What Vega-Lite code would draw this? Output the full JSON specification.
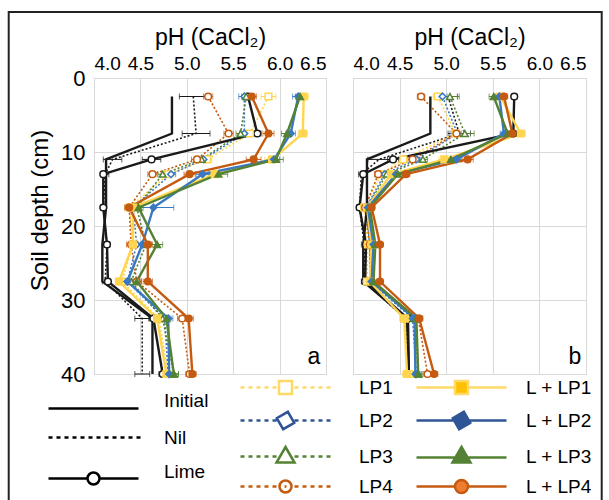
{
"$schema": "https://vega.github.io/schema/vega-lite/v6.json",
"padding": {"left": 7, "top": 10, "right": 5, "bottom": 0},
"background": "white",
"config": {
 "font": "Liberation Sans",
 "view": {"stroke": "#d9d9d9", "strokeWidth": 1},
 "axis": {"grid": true, "gridColor": "#d9d9d9", "domain": false, "ticks": false, "labelFont": "Liberation Sans", "labelFontSize": 19, "labelColor": "#000", "titleFont": "Liberation Sans", "titleFontSize": 23, "titleFontWeight": "normal", "titleColor": "#000"}
},
"datasets": {
"pa": [
{"s":"Initial","d":2.5,"pH":4.84},{"s":"Initial","d":7.5,"pH":4.84},{"s":"Initial","d":11,"pH":4.13},{"s":"Initial","d":13,"pH":4.13},{"s":"Initial","d":17.5,"pH":4.13},{"s":"Initial","d":22.5,"pH":4.09},{"s":"Initial","d":27.5,"pH":4.09},{"s":"Initial","d":32.5,"pH":4.63},{"s":"Initial","d":40,"pH":4.63},
{"s":"Nil","d":2.5,"pH":5.07,"e":0.15},{"s":"Nil","d":7.5,"pH":5.1,"e":0.15},{"s":"Nil","d":11,"pH":4.2,"e":0.1},{"s":"Nil","d":13,"pH":4.12,"e":0.04},{"s":"Nil","d":17.5,"pH":4.1,"e":0.03},{"s":"Nil","d":22.5,"pH":4.14,"e":0.03},{"s":"Nil","d":27.5,"pH":4.12,"e":0.03},{"s":"Nil","d":32.5,"pH":4.52,"e":0.08},{"s":"Nil","d":40,"pH":4.52,"e":0.08},
{"s":"Lime","d":2.5,"pH":5.66,"e":0.05},{"s":"Lime","d":7.5,"pH":5.76,"e":0.04},{"s":"Lime","d":11,"pH":4.62,"e":0.1},{"s":"Lime","d":13,"pH":4.1,"e":0.03},{"s":"Lime","d":17.5,"pH":4.1,"e":0.03},{"s":"Lime","d":22.5,"pH":4.14,"e":0.03},{"s":"Lime","d":27.5,"pH":4.15,"e":0.03},{"s":"Lime","d":32.5,"pH":4.64,"e":0.05},{"s":"Lime","d":40,"pH":4.74,"e":0.04},
{"s":"LP1","d":2.5,"pH":5.88,"e":0.08},{"s":"LP1","d":7.5,"pH":5.68,"e":0.06},{"s":"LP1","d":11,"pH":5.22,"e":0.05},{"s":"LP1","d":13,"pH":4.8,"e":0.06},{"s":"LP1","d":17.5,"pH":4.38,"e":0.05},{"s":"LP1","d":22.5,"pH":4.42,"e":0.06},{"s":"LP1","d":27.5,"pH":4.3,"e":0.05},{"s":"LP1","d":32.5,"pH":4.7,"e":0.06},{"s":"LP1","d":40,"pH":4.8,"e":0.05},
{"s":"LP2","d":2.5,"pH":5.62,"e":0.06},{"s":"LP2","d":7.5,"pH":5.62,"e":0.05},{"s":"LP2","d":11,"pH":5.18,"e":0.05},{"s":"LP2","d":13,"pH":4.83,"e":0.05},{"s":"LP2","d":17.5,"pH":4.42,"e":0.05},{"s":"LP2","d":22.5,"pH":4.46,"e":0.05},{"s":"LP2","d":27.5,"pH":4.36,"e":0.04},{"s":"LP2","d":32.5,"pH":4.76,"e":0.05},{"s":"LP2","d":40,"pH":4.8,"e":0.05},
{"s":"LP3","d":2.5,"pH":5.64,"e":0.05},{"s":"LP3","d":7.5,"pH":5.58,"e":0.05},{"s":"LP3","d":11,"pH":5.16,"e":0.06},{"s":"LP3","d":13,"pH":4.74,"e":0.05},{"s":"LP3","d":17.5,"pH":4.46,"e":0.05},{"s":"LP3","d":22.5,"pH":4.56,"e":0.05},{"s":"LP3","d":27.5,"pH":4.4,"e":0.05},{"s":"LP3","d":32.5,"pH":4.74,"e":0.05},{"s":"LP3","d":40,"pH":4.86,"e":0.05},
{"s":"LP4","d":2.5,"pH":5.23,"e":0.05},{"s":"LP4","d":7.5,"pH":5.45,"e":0.05},{"s":"LP4","d":11,"pH":5.11,"e":0.06},{"s":"LP4","d":13,"pH":4.63,"e":0.05},{"s":"LP4","d":17.5,"pH":4.38,"e":0.04},{"s":"LP4","d":22.5,"pH":4.4,"e":0.05},{"s":"LP4","d":27.5,"pH":4.46,"e":0.05},{"s":"LP4","d":32.5,"pH":4.95,"e":0.05},{"s":"LP4","d":40,"pH":5.03,"e":0.04},
{"s":"L+LP1","d":2.5,"pH":6.26,"e":0.05},{"s":"L+LP1","d":7.5,"pH":6.25,"e":0.05},{"s":"L+LP1","d":11,"pH":5.92,"e":0.08},{"s":"L+LP1","d":13,"pH":5.3,"e":0.08},{"s":"L+LP1","d":17.5,"pH":4.42,"e":0.05},{"s":"L+LP1","d":22.5,"pH":4.42,"e":0.04},{"s":"L+LP1","d":27.5,"pH":4.27,"e":0.04},{"s":"L+LP1","d":32.5,"pH":4.68,"e":0.05},{"s":"L+LP1","d":40,"pH":4.78,"e":0.04},
{"s":"L+LP2","d":2.5,"pH":6.2,"e":0.06},{"s":"L+LP2","d":7.5,"pH":6.12,"e":0.05},{"s":"L+LP2","d":11,"pH":5.94,"e":0.06},{"s":"L+LP2","d":13,"pH":5.17,"e":0.07},{"s":"L+LP2","d":17.5,"pH":4.64,"e":0.22},{"s":"L+LP2","d":22.5,"pH":4.52,"e":0.05},{"s":"L+LP2","d":27.5,"pH":4.36,"e":0.05},{"s":"L+LP2","d":32.5,"pH":4.8,"e":0.05},{"s":"L+LP2","d":40,"pH":4.81,"e":0.04},
{"s":"L+LP3","d":2.5,"pH":6.22,"e":0.05},{"s":"L+LP3","d":7.5,"pH":6.08,"e":0.06},{"s":"L+LP3","d":11,"pH":5.96,"e":0.08},{"s":"L+LP3","d":13,"pH":5.34,"e":0.1},{"s":"L+LP3","d":17.5,"pH":4.48,"e":0.05},{"s":"L+LP3","d":22.5,"pH":4.68,"e":0.06},{"s":"L+LP3","d":27.5,"pH":4.46,"e":0.05},{"s":"L+LP3","d":32.5,"pH":4.78,"e":0.05},{"s":"L+LP3","d":40,"pH":4.86,"e":0.05},
{"s":"L+LP4","d":2.5,"pH":5.7,"e":0.05},{"s":"L+LP4","d":7.5,"pH":5.88,"e":0.06},{"s":"L+LP4","d":11,"pH":5.72,"e":0.08},{"s":"L+LP4","d":13,"pH":5.03,"e":0.06},{"s":"L+LP4","d":17.5,"pH":4.38,"e":0.05},{"s":"L+LP4","d":22.5,"pH":4.58,"e":0.05},{"s":"L+LP4","d":27.5,"pH":4.58,"e":0.05},{"s":"L+LP4","d":32.5,"pH":5.02,"e":0.05},{"s":"L+LP4","d":40,"pH":5.06,"e":0.04}
],
"pb": [
{"s":"Initial","d":2.5,"pH":4.83},{"s":"Initial","d":7.5,"pH":4.83},{"s":"Initial","d":11,"pH":4.15},{"s":"Initial","d":13,"pH":4.15},{"s":"Initial","d":17.5,"pH":4.15},{"s":"Initial","d":22.5,"pH":4.11},{"s":"Initial","d":27.5,"pH":4.11},{"s":"Initial","d":32.5,"pH":4.58},{"s":"Initial","d":40,"pH":4.6},
{"s":"Nil","d":2.5,"pH":5.02,"e":0.1},{"s":"Nil","d":7.5,"pH":5.14,"e":0.12},{"s":"Nil","d":11,"pH":4.28,"e":0.12},{"s":"Nil","d":13,"pH":4.09,"e":0.03},{"s":"Nil","d":17.5,"pH":4.07,"e":0.03},{"s":"Nil","d":22.5,"pH":4.12,"e":0.03},{"s":"Nil","d":27.5,"pH":4.12,"e":0.03},{"s":"Nil","d":32.5,"pH":4.56,"e":0.05},{"s":"Nil","d":40,"pH":4.6,"e":0.05},
{"s":"Lime","d":2.5,"pH":5.73,"e":0.03},{"s":"Lime","d":7.5,"pH":5.72,"e":0.04},{"s":"Lime","d":11,"pH":4.43,"e":0.06},{"s":"Lime","d":13,"pH":4.11,"e":0.03},{"s":"Lime","d":17.5,"pH":4.07,"e":0.03},{"s":"Lime","d":22.5,"pH":4.14,"e":0.03},{"s":"Lime","d":27.5,"pH":4.13,"e":0.03},{"s":"Lime","d":32.5,"pH":4.59,"e":0.04},{"s":"Lime","d":40,"pH":4.6,"e":0.04},
{"s":"LP1","d":2.5,"pH":4.91,"e":0.05},{"s":"LP1","d":7.5,"pH":5.1,"e":0.06},{"s":"LP1","d":11,"pH":4.54,"e":0.05},{"s":"LP1","d":13,"pH":4.3,"e":0.05},{"s":"LP1","d":17.5,"pH":4.12,"e":0.03},{"s":"LP1","d":22.5,"pH":4.16,"e":0.03},{"s":"LP1","d":27.5,"pH":4.15,"e":0.03},{"s":"LP1","d":32.5,"pH":4.56,"e":0.05},{"s":"LP1","d":40,"pH":4.6,"e":0.05},
{"s":"LP2","d":2.5,"pH":4.96,"e":0.05},{"s":"LP2","d":7.5,"pH":5.12,"e":0.08},{"s":"LP2","d":11,"pH":4.68,"e":0.05},{"s":"LP2","d":13,"pH":4.34,"e":0.04},{"s":"LP2","d":17.5,"pH":4.14,"e":0.03},{"s":"LP2","d":22.5,"pH":4.18,"e":0.03},{"s":"LP2","d":27.5,"pH":4.18,"e":0.03},{"s":"LP2","d":32.5,"pH":4.64,"e":0.04},{"s":"LP2","d":40,"pH":4.68,"e":0.04},
{"s":"LP3","d":2.5,"pH":5.04,"e":0.1},{"s":"LP3","d":7.5,"pH":5.2,"e":0.1},{"s":"LP3","d":11,"pH":4.75,"e":0.05},{"s":"LP3","d":13,"pH":4.36,"e":0.04},{"s":"LP3","d":17.5,"pH":4.15,"e":0.03},{"s":"LP3","d":22.5,"pH":4.2,"e":0.03},{"s":"LP3","d":27.5,"pH":4.2,"e":0.03},{"s":"LP3","d":32.5,"pH":4.66,"e":0.04},{"s":"LP3","d":40,"pH":4.7,"e":0.04},
{"s":"LP4","d":2.5,"pH":4.73,"e":0.04},{"s":"LP4","d":7.5,"pH":5.11,"e":0.05},{"s":"LP4","d":11,"pH":4.64,"e":0.05},{"s":"LP4","d":13,"pH":4.27,"e":0.04},{"s":"LP4","d":17.5,"pH":4.13,"e":0.03},{"s":"LP4","d":22.5,"pH":4.18,"e":0.03},{"s":"LP4","d":27.5,"pH":4.2,"e":0.03},{"s":"LP4","d":32.5,"pH":4.7,"e":0.04},{"s":"LP4","d":40,"pH":4.8,"e":0.04},
{"s":"L+LP1","d":2.5,"pH":5.58,"e":0.06},{"s":"L+LP1","d":7.5,"pH":5.8,"e":0.05},{"s":"L+LP1","d":11,"pH":4.98,"e":0.06},{"s":"L+LP1","d":13,"pH":4.41,"e":0.05},{"s":"L+LP1","d":17.5,"pH":4.15,"e":0.03},{"s":"L+LP1","d":22.5,"pH":4.2,"e":0.03},{"s":"L+LP1","d":27.5,"pH":4.18,"e":0.03},{"s":"L+LP1","d":32.5,"pH":4.55,"e":0.05},{"s":"L+LP1","d":40,"pH":4.58,"e":0.05},
{"s":"L+LP2","d":2.5,"pH":5.57,"e":0.04},{"s":"L+LP2","d":7.5,"pH":5.62,"e":0.04},{"s":"L+LP2","d":11,"pH":5.11,"e":0.05},{"s":"L+LP2","d":13,"pH":4.46,"e":0.04},{"s":"L+LP2","d":17.5,"pH":4.16,"e":0.03},{"s":"L+LP2","d":22.5,"pH":4.22,"e":0.03},{"s":"L+LP2","d":27.5,"pH":4.2,"e":0.03},{"s":"L+LP2","d":32.5,"pH":4.66,"e":0.04},{"s":"L+LP2","d":40,"pH":4.67,"e":0.04},
{"s":"L+LP3","d":2.5,"pH":5.51,"e":0.05},{"s":"L+LP3","d":7.5,"pH":5.66,"e":0.05},{"s":"L+LP3","d":11,"pH":5.05,"e":0.05},{"s":"L+LP3","d":13,"pH":4.48,"e":0.04},{"s":"L+LP3","d":17.5,"pH":4.18,"e":0.03},{"s":"L+LP3","d":22.5,"pH":4.24,"e":0.03},{"s":"L+LP3","d":27.5,"pH":4.22,"e":0.03},{"s":"L+LP3","d":32.5,"pH":4.68,"e":0.04},{"s":"L+LP3","d":40,"pH":4.7,"e":0.04},
{"s":"L+LP4","d":2.5,"pH":5.62,"e":0.04},{"s":"L+LP4","d":7.5,"pH":5.71,"e":0.05},{"s":"L+LP4","d":11,"pH":5.23,"e":0.06},{"s":"L+LP4","d":13,"pH":4.57,"e":0.04},{"s":"L+LP4","d":17.5,"pH":4.2,"e":0.03},{"s":"L+LP4","d":22.5,"pH":4.29,"e":0.03},{"s":"L+LP4","d":27.5,"pH":4.29,"e":0.03},{"s":"L+LP4","d":32.5,"pH":4.71,"e":0.04},{"s":"L+LP4","d":40,"pH":4.87,"e":0.04}
]
},
"spacing": 27,
"bounds": "flush",
"hconcat": [
{
 "width": 232, "height": 296,
 "data": {"name": "pa"},
 "resolve": {"scale": {"color": "independent", "stroke": "independent", "fill": "independent", "shape": "independent"}},
 "layer": [
  {"transform": [{"filter": "datum.s != 'Initial'"}],
   "mark": {"type": "errorbar", "ticks": {"size": 6}, "thickness": 1},
   "encoding": {
    "x": {"field": "pH", "type": "quantitative", "scale": {"domain": [4, 6.5], "nice": false, "zero": false},
          "axis": {"orient": "top", "values": [4, 4.5, 5, 5.5, 6, 6.5], "format": ".1f", "title": "pH (CaCl₂)", "labelPadding": 5, "titlePadding": 5}},
    "xError": {"field": "e"},
    "y": {"field": "d", "type": "quantitative", "scale": {"domain": [0, 40], "reverse": true, "nice": false},
          "axis": {"values": [0, 10, 20, 30, 40], "title": "Soil depth (cm)", "titleFontSize": 24, "labelFontSize": 22, "labelPadding": 9, "titlePadding": 8, "titleY": 132}},
    "color": {"field": "s", "type": "nominal", "legend": null,
      "scale": {"domain": ["Initial","Nil","Lime","LP1","LP2","LP3","LP4","L+LP1","L+LP2","L+LP3","L+LP4"],
                "range": ["#1a1a1a","#1a1a1a","#1a1a1a","#FFD54F","#3A78C2","#548235","#C55A11","#FFD54F","#3A78C2","#548235","#C55A11"]}}
   }},
  {"transform": [{"filter": "indexof(['Nil','LP1','LP2','LP3','LP4'], datum.s) >= 0"}],
   "mark": {"type": "line", "strokeDash": [2, 2], "strokeWidth": 1.6},
   "encoding": {
    "x": {"field": "pH", "type": "quantitative"},
    "y": {"field": "d", "type": "quantitative"},
    "order": {"field": "d", "type": "quantitative"},
    "color": {"field": "s", "type": "nominal", "legend": null,
      "scale": {"domain": ["Initial","Nil","Lime","LP1","LP2","LP3","LP4","L+LP1","L+LP2","L+LP3","L+LP4"],
                "range": ["#1a1a1a","#1a1a1a","#1a1a1a","#FFD54F","#3A78C2","#548235","#C55A11","#FFD54F","#3A78C2","#548235","#C55A11"]}}
   }},
  {"transform": [{"filter": "indexof(['Initial','Lime','L+LP1','L+LP2','L+LP3','L+LP4'], datum.s) >= 0"}],
   "mark": {"type": "line", "strokeWidth": 2.4},
   "encoding": {
    "x": {"field": "pH", "type": "quantitative"},
    "y": {"field": "d", "type": "quantitative"},
    "order": {"field": "d", "type": "quantitative"},
    "color": {"field": "s", "type": "nominal", "legend": null,
      "scale": {"domain": ["Initial","Nil","Lime","LP1","LP2","LP3","LP4","L+LP1","L+LP2","L+LP3","L+LP4"],
                "range": ["#1a1a1a","#1a1a1a","#1a1a1a","#FFD54F","#3A78C2","#548235","#C55A11","#FFD54F","#3A78C2","#548235","#C55A11"]}}
   }},
  {"transform": [{"filter": "datum.s != 'Initial' && datum.s != 'Nil'"}],
   "mark": {"type": "point", "filled": true, "size": 45, "strokeWidth": 1.5, "opacity": 1},
   "encoding": {
    "x": {"field": "pH", "type": "quantitative"},
    "y": {"field": "d", "type": "quantitative"},
    "stroke": {"field": "s", "type": "nominal", "legend": null,
      "scale": {"domain": ["Initial","Nil","Lime","LP1","LP2","LP3","LP4","L+LP1","L+LP2","L+LP3","L+LP4"],
                "range": ["#1a1a1a","#1a1a1a","#1a1a1a","#FFD54F","#3A78C2","#548235","#C55A11","#FFD54F","#3A78C2","#548235","#C55A11"]}},
    "fill": {"field": "s", "type": "nominal", "legend": null,
      "scale": {"domain": ["Initial","Nil","Lime","LP1","LP2","LP3","LP4","L+LP1","L+LP2","L+LP3","L+LP4"],
                "range": ["#ffffff","#ffffff","#ffffff","#ffffff","#ffffff","#ffffff","#ffffff","#FFD54F","#3A78C2","#548235","#C55A11"]}},
    "shape": {"field": "s", "type": "nominal", "legend": null,
      "scale": {"domain": ["Initial","Nil","Lime","LP1","LP2","LP3","LP4","L+LP1","L+LP2","L+LP3","L+LP4"],
                "range": ["circle","circle","circle","square","diamond","triangle-up","circle","square","diamond","triangle-up","circle"]}}
   }},
  {"data": {"values": [{"t": "a"}]},
   "mark": {"type": "text", "fontSize": 23, "font": "Liberation Sans", "color": "#000", "align": "center", "baseline": "middle"},
   "encoding": {"text": {"field": "t"}, "x": {"datum": 6.37}, "y": {"datum": 37.7}}},
  {"data": {"values": [{"t": "frame"}]},
   "mark": {"type": "rect", "fill": null, "fillOpacity": 0, "stroke": "#222222", "strokeWidth": 2},
   "encoding": {"x": {"datum": 3.081}, "x2": {"datum": 9.471}, "y": {"datum": -8.92}, "y2": {"datum": 59.9}}},
  {"data": {"values": [{"k": "Initial"}, {"k": "Nil"}, {"k": "Lime"}]},
   "mark": {"type": "point", "filled": false, "opacity": 0},
   "encoding": {
    "stroke": {"field": "k", "type": "nominal", "scale": {"domain": ["Initial","Nil","Lime"], "range": ["#000000","#000000","#000000"]},
      "legend": {"orient": "none", "legendX": -10, "legendY": 313, "title": null, "symbolSize": 100, "symbolStrokeWidth": 2.5, "symbolOpacity": 1, "symbolFillColor": "white", "labelFont": "Liberation Sans", "labelFontSize": 19, "labelColor": "#000", "labelOffset": 61, "rowPadding": 14}},
    "shape": {"field": "k", "type": "nominal", "scale": {"domain": ["Initial","Nil","Lime"], "range": [
      "M-9,1.6H9",
      "M-9,0h0.8M-7.4,0h0.8M-5.8,0h0.8M-4.2,0h0.8M-2.6,0h0.8M-1,0h0.8M0.6,0h0.8M2.2,0h0.8M3.8,0h0.8M5.4,0h0.8M7,0h0.8M8.6,0h0.8",
      "M-9,1.4H-1.2M1.2,1.4H9M1.2,1.4A1.2,1.2,0,1,1,-1.2,1.4A1.2,1.2,0,1,1,1.2,1.4"]},
      "legend": {"orient": "none", "legendX": -10, "legendY": 313, "title": null, "symbolSize": 100, "symbolStrokeWidth": 2.5, "symbolOpacity": 1, "symbolFillColor": "white", "labelFont": "Liberation Sans", "labelFontSize": 19, "labelColor": "#000", "labelOffset": 61, "rowPadding": 14}}
   }},
  {"data": {"values": [{"k": "LP1"}, {"k": "LP2"}, {"k": "LP3"}, {"k": "LP4"}]},
   "mark": {"type": "point", "filled": false, "opacity": 0},
   "encoding": {
    "stroke": {"field": "k", "type": "nominal", "scale": {"domain": ["LP1","LP2","LP3","LP4"], "range": ["#FFD966","#2F5597","#548235","#C55A11"]},
      "legend": {"orient": "none", "legendX": 182, "legendY": 300, "title": null, "symbolSize": 100, "symbolStrokeWidth": 2.5, "symbolOpacity": 1, "symbolFillColor": "white", "labelFont": "Liberation Sans", "labelFontSize": 19, "labelColor": "#000", "labelOffset": 64, "rowPadding": 7}},
    "shape": {"field": "k", "type": "nominal", "scale": {"domain": ["LP1","LP2","LP3","LP4"], "range": [
      "M-9,0h0.8M-7.4,0h0.8M-5.8,0h0.8M-4.2,0h0.8M-2.6,0h0.8M1.8,0h0.8M3.4,0h0.8M5,0h0.8M6.6,0h0.8M8.2,0h0.8M-1.3,-1.3H1.3V1.3H-1.3Z",
      "M-9,0h0.8M-7.4,0h0.8M-5.8,0h0.8M-4.2,0h0.8M-2.6,0h0.8M1.8,0h0.8M3.4,0h0.8M5,0h0.8M6.6,0h0.8M8.2,0h0.8M1.74,0.47L-0.47,1.74L-1.74,-0.47L0.47,-1.74Z",
      "M-9,0h0.8M-7.4,0h0.8M-5.8,0h0.8M-4.2,0h0.8M-2.6,0h0.8M1.8,0h0.8M3.4,0h0.8M5,0h0.8M6.6,0h0.8M8.2,0h0.8M0,-1.9L1.8,1.2L-1.8,1.2Z",
      "M-9,0h0.8M-7.4,0h0.8M-5.8,0h0.8M-4.2,0h0.8M-2.6,0h0.8M1.8,0h0.8M3.4,0h0.8M5,0h0.8M6.6,0h0.8M8.2,0h0.8M1.2,0A1.2,1.2,0,1,1,-1.2,0A1.2,1.2,0,1,1,1.2,0ZM-0.2,0h0.4"]},
      "legend": {"orient": "none", "legendX": 182, "legendY": 300, "title": null, "symbolSize": 100, "symbolStrokeWidth": 2.5, "symbolOpacity": 1, "symbolFillColor": "white", "labelFont": "Liberation Sans", "labelFontSize": 19, "labelColor": "#000", "labelOffset": 64, "rowPadding": 7}}
   }},
  {"data": {"values": [{"k": "L + LP1"}, {"k": "L + LP2"}, {"k": "L + LP3"}, {"k": "L + LP4"}]},
   "mark": {"type": "point", "filled": true, "opacity": 0},
   "encoding": {
    "stroke": {"field": "k", "type": "nominal", "scale": {"domain": ["L + LP1","L + LP2","L + LP3","L + LP4"], "range": ["#FFD966","#2F5597","#548235","#C55A11"]},
      "legend": {"orient": "none", "legendX": 358, "legendY": 300, "title": null, "symbolSize": 100, "symbolStrokeWidth": 2.5, "symbolOpacity": 1, "labelFont": "Liberation Sans", "labelFontSize": 19, "labelColor": "#000", "labelOffset": 55, "rowPadding": 7}},
    "fill": {"field": "k", "type": "nominal", "scale": {"domain": ["L + LP1","L + LP2","L + LP3","L + LP4"], "range": ["#FFC000","#2F5597","#548235","#ED7D31"]},
      "legend": {"orient": "none", "legendX": 358, "legendY": 300, "title": null, "symbolSize": 100, "symbolStrokeWidth": 2.5, "symbolOpacity": 1, "labelFont": "Liberation Sans", "labelFontSize": 19, "labelColor": "#000", "labelOffset": 55, "rowPadding": 7}},
    "shape": {"field": "k", "type": "nominal", "scale": {"domain": ["L + LP1","L + LP2","L + LP3","L + LP4"], "range": [
      "M-9,0H-1.3M1.3,0H9M-1.3,-1.3H1.3V1.3H-1.3Z",
      "M-9,0H-1.6M1.6,0H9M1.74,0.47L-0.47,1.74L-1.74,-0.47L0.47,-1.74Z",
      "M-9,0.2H-1.1M1.1,0.2H9M0,-1.9L1.8,1.2L-1.8,1.2Z",
      "M-9,0H-1.3M1.3,0H9M1.3,0A1.3,1.3,0,1,1,-1.3,0A1.3,1.3,0,1,1,1.3,0Z"]},
      "legend": {"orient": "none", "legendX": 358, "legendY": 300, "title": null, "symbolSize": 100, "symbolStrokeWidth": 2.5, "symbolOpacity": 1, "labelFont": "Liberation Sans", "labelFontSize": 19, "labelColor": "#000", "labelOffset": 55, "rowPadding": 7}}
   }}
 ]
},
{
 "width": 233, "height": 296,
 "data": {"name": "pb"},
 "layer": [
  {"transform": [{"filter": "datum.s != 'Initial'"}],
   "mark": {"type": "errorbar", "ticks": {"size": 6}, "thickness": 1},
   "encoding": {
    "x": {"field": "pH", "type": "quantitative", "scale": {"domain": [4, 6.5], "nice": false, "zero": false},
          "axis": {"orient": "top", "values": [4, 4.5, 5, 5.5, 6, 6.5], "format": ".1f", "title": "pH (CaCl₂)", "labelPadding": 5, "titlePadding": 5}},
    "xError": {"field": "e"},
    "y": {"field": "d", "type": "quantitative", "scale": {"domain": [0, 40], "reverse": true, "nice": false},
          "axis": {"values": [0, 10, 20, 30, 40], "title": null, "labels": false, "minExtent": 0, "maxExtent": 0}},
    "color": {"field": "s", "type": "nominal", "legend": null,
      "scale": {"domain": ["Initial","Nil","Lime","LP1","LP2","LP3","LP4","L+LP1","L+LP2","L+LP3","L+LP4"],
                "range": ["#1a1a1a","#1a1a1a","#1a1a1a","#FFD54F","#3A78C2","#548235","#C55A11","#FFD54F","#3A78C2","#548235","#C55A11"]}}
   }},
  {"transform": [{"filter": "indexof(['Nil','LP1','LP2','LP3','LP4'], datum.s) >= 0"}],
   "mark": {"type": "line", "strokeDash": [2, 2], "strokeWidth": 1.6},
   "encoding": {
    "x": {"field": "pH", "type": "quantitative"},
    "y": {"field": "d", "type": "quantitative"},
    "order": {"field": "d", "type": "quantitative"},
    "color": {"field": "s", "type": "nominal", "legend": null}
   }},
  {"transform": [{"filter": "indexof(['Initial','Lime','L+LP1','L+LP2','L+LP3','L+LP4'], datum.s) >= 0"}],
   "mark": {"type": "line", "strokeWidth": 2.4},
   "encoding": {
    "x": {"field": "pH", "type": "quantitative"},
    "y": {"field": "d", "type": "quantitative"},
    "order": {"field": "d", "type": "quantitative"},
    "color": {"field": "s", "type": "nominal", "legend": null}
   }},
  {"transform": [{"filter": "datum.s != 'Initial' && datum.s != 'Nil'"}],
   "mark": {"type": "point", "filled": true, "size": 45, "strokeWidth": 1.5, "opacity": 1},
   "encoding": {
    "x": {"field": "pH", "type": "quantitative"},
    "y": {"field": "d", "type": "quantitative"},
    "stroke": {"field": "s", "type": "nominal", "legend": null,
      "scale": {"domain": ["Initial","Nil","Lime","LP1","LP2","LP3","LP4","L+LP1","L+LP2","L+LP3","L+LP4"],
                "range": ["#1a1a1a","#1a1a1a","#1a1a1a","#FFD54F","#3A78C2","#548235","#C55A11","#FFD54F","#3A78C2","#548235","#C55A11"]}},
    "fill": {"field": "s", "type": "nominal", "legend": null,
      "scale": {"domain": ["Initial","Nil","Lime","LP1","LP2","LP3","LP4","L+LP1","L+LP2","L+LP3","L+LP4"],
                "range": ["#ffffff","#ffffff","#ffffff","#ffffff","#ffffff","#ffffff","#ffffff","#FFD54F","#3A78C2","#548235","#C55A11"]}},
    "shape": {"field": "s", "type": "nominal", "legend": null,
      "scale": {"domain": ["Initial","Nil","Lime","LP1","LP2","LP3","LP4","L+LP1","L+LP2","L+LP3","L+LP4"],
                "range": ["circle","circle","circle","square","diamond","triangle-up","circle","square","diamond","triangle-up","circle"]}}
   }},
  {"data": {"values": [{"t": "b"}]},
   "mark": {"type": "text", "fontSize": 23, "font": "Liberation Sans", "color": "#000", "align": "center", "baseline": "middle"},
   "encoding": {"text": {"field": "t"}, "x": {"datum": 6.38}, "y": {"datum": 37.7}}}
 ]
}
]
}
